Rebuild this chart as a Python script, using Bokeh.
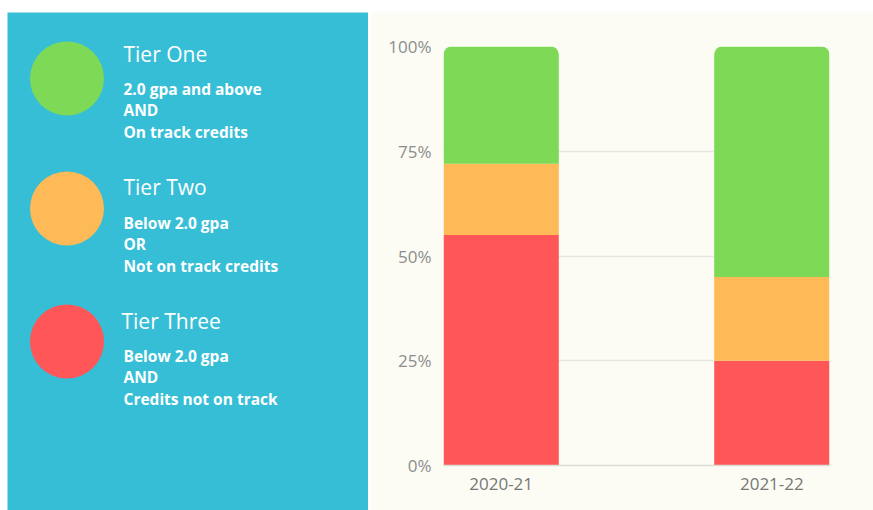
from bokeh.plotting import figure
from bokeh.layouts import row, column, Spacer
from bokeh.models import Range1d, FixedTicker, NumeralTickFormatter
from bokeh.core.properties import value
from bokeh.embed import file_html
from bokeh.resources import INLINE

# ---- data ----
years = ["2020-21", "2021-22"]
tier_three = [0.55, 0.25]   # red
tier_two = [0.17, 0.20]     # orange
tier_one = [0.28, 0.55]     # green
y_ticks = [0, 0.25, 0.5, 0.75, 1.0]

tier_titles = ["Tier One", "Tier Two", "Tier Three"]
tier_lines = [
    ["2.0 gpa and above", "AND", "On track credits"],
    ["Below 2.0 gpa", "OR", "Not on track credits"],
    ["Below 2.0 gpa", "AND", "Credits not on track"],
]

GREEN = "#7ED957"
ORANGE = "#FDBA57"
RED = "#FF5757"
TEAL = "#36BED6"
CREAM = "#FCFCF4"
colors = [GREEN, ORANGE, RED]

# ---- left legend panel ----
LW, LH = 361, 498
left = figure(width=LW, height=LH, x_range=Range1d(0, LW), y_range=Range1d(LH, 0),
              output_backend="svg", toolbar_location=None,
              min_border=0, background_fill_color=TEAL, border_fill_color=TEAL)
left.frame_align = False
left.axis.visible = False
left.grid.visible = False
left.outline_line_color = None

circle_y = [66, 196, 329]
title_y = [41, 174, 308]
title_x = [116, 116, 114]
line_y0 = [76, 210, 343]
line_gap = 21.5

left.scatter(x=[59.5] * 3, y=circle_y, size=74, color=colors, line_color=None)
left.text(x=title_x, y=title_y, text=tier_titles, text_color="white",
          text_font=value("Open Sans"), text_font_size="21px", text_baseline="middle")
xs, ys, txt = [], [], []
for i, lines in enumerate(tier_lines):
    for j, t in enumerate(lines):
        xs.append(116)
        ys.append(line_y0[i] + j * line_gap)
        txt.append(t)
left.text(x=xs, y=ys, text=txt, text_color="white", text_font=value("Open Sans"),
          text_font_size="15.5px", text_font_style="bold", text_baseline="middle")

# ---- right chart ----
RW, RH = 503, 498
p = figure(width=RW, height=RH, x_range=Range1d(-0.213, 1.213), y_range=Range1d(0, 1),
           output_backend="svg", toolbar_location=None,
           min_border_left=73, min_border_right=44, min_border_top=34, min_border_bottom=45,
           background_fill_color=CREAM, border_fill_color=CREAM)
p.frame_align = False
p.outline_line_color = None
xpos = list(range(len(years)))
src = dict(x=xpos, t3=tier_three, t2=tier_two, t1=tier_one)
r = p.vbar_stack(["t3", "t2", "t1"], x="x", width=0.426, color=[RED, ORANGE, GREEN],
                 line_color=None, source=src)
r[2].glyph.border_radius = (8, 8, 0, 0)

p.xgrid.visible = False
p.ygrid.ticker = FixedTicker(ticks=y_ticks)
p.ygrid.grid_line_color = "#E6E6E2"
p.ygrid.grid_line_width = 1.5

p.yaxis.ticker = FixedTicker(ticks=y_ticks)
p.yaxis.formatter = NumeralTickFormatter(format="0%")
p.yaxis.axis_line_color = None
p.yaxis.major_tick_line_color = None
p.yaxis.minor_tick_line_color = None
p.yaxis.major_tick_out = 0
p.yaxis.major_label_standoff = 12
p.yaxis.major_label_text_font = "Open Sans"
p.yaxis.major_label_text_font_size = "17px"
p.yaxis.major_label_text_color = "#8C8C8C"

p.xaxis.ticker = FixedTicker(ticks=xpos)
p.xaxis.major_label_overrides = {i: y for i, y in enumerate(years)}
p.xaxis.axis_line_color = "#DCDCD8"
p.xaxis.axis_line_width = 1.5
p.xaxis.major_tick_line_color = None
p.xaxis.minor_tick_line_color = None
p.xaxis.major_tick_out = 0
p.xaxis.major_label_standoff = 12
p.xaxis.major_label_text_font = "Open Sans"
p.xaxis.major_label_text_font_size = "17px"
p.xaxis.major_label_text_color = "#777777"

layout = column(Spacer(height=12),
                row(Spacer(width=7), left, Spacer(width=2), p, spacing=0),
                spacing=0)
open("out.html", "w").write(file_html(layout, INLINE))
